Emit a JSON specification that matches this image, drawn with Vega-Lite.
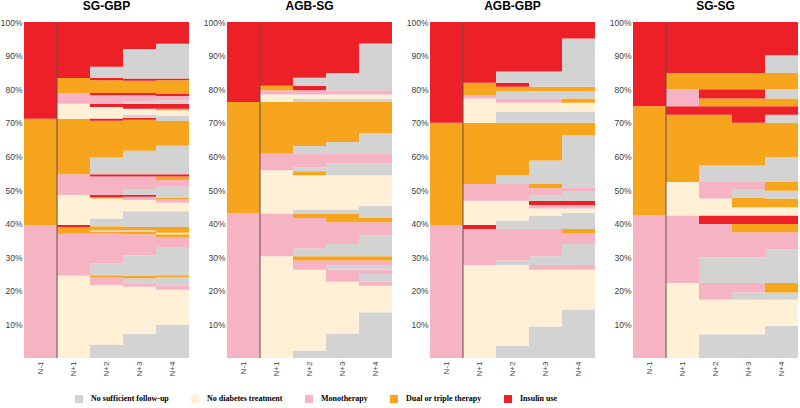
{
"$schema":"https://vega.github.io/schema/vega-lite/v6.json",
"background":"white",
"padding":{"left":0,"top":0,"right":0,"bottom":0},
"data":{"values":[
{"p":"SG-GBP","c":"N-1","k":"P","a":0,"b":39.5},{"p":"SG-GBP","c":"N-1","k":"O","a":39.5,"b":71.2},{"p":"SG-GBP","c":"N-1","k":"R","a":71.2,"b":100},
{"p":"SG-GBP","c":"N+1","k":"C","a":0,"b":24.5},{"p":"SG-GBP","c":"N+1","k":"P","a":24.5,"b":37},{"p":"SG-GBP","c":"N+1","k":"O","a":37,"b":38.9},{"p":"SG-GBP","c":"N+1","k":"R","a":38.9,"b":39.6},{"p":"SG-GBP","c":"N+1","k":"C","a":39.6,"b":48.5},{"p":"SG-GBP","c":"N+1","k":"P","a":48.5,"b":54.7},{"p":"SG-GBP","c":"N+1","k":"O","a":54.7,"b":71.2},{"p":"SG-GBP","c":"N+1","k":"C","a":71.2,"b":75.7},{"p":"SG-GBP","c":"N+1","k":"P","a":75.7,"b":78.9},{"p":"SG-GBP","c":"N+1","k":"O","a":78.9,"b":83.3},{"p":"SG-GBP","c":"N+1","k":"R","a":83.3,"b":100},
{"p":"SG-GBP","c":"N+2","k":"G","a":0,"b":4},{"p":"SG-GBP","c":"N+2","k":"C","a":4,"b":21.7},{"p":"SG-GBP","c":"N+2","k":"P","a":21.7,"b":24},{"p":"SG-GBP","c":"N+2","k":"O","a":24,"b":24.6},{"p":"SG-GBP","c":"N+2","k":"G","a":24.6,"b":28.2},{"p":"SG-GBP","c":"N+2","k":"P","a":28.2,"b":37},{"p":"SG-GBP","c":"N+2","k":"O","a":37,"b":37.5},{"p":"SG-GBP","c":"N+2","k":"G","a":37.5,"b":38},{"p":"SG-GBP","c":"N+2","k":"O","a":38,"b":39.2},{"p":"SG-GBP","c":"N+2","k":"G","a":39.2,"b":41.5},{"p":"SG-GBP","c":"N+2","k":"C","a":41.5,"b":47.5},{"p":"SG-GBP","c":"N+2","k":"O","a":47.5,"b":47.9},{"p":"SG-GBP","c":"N+2","k":"R","a":47.9,"b":48.5},{"p":"SG-GBP","c":"N+2","k":"P","a":48.5,"b":54},{"p":"SG-GBP","c":"N+2","k":"R","a":54,"b":54.7},{"p":"SG-GBP","c":"N+2","k":"G","a":54.7,"b":59.7},{"p":"SG-GBP","c":"N+2","k":"O","a":59.7,"b":70.6},{"p":"SG-GBP","c":"N+2","k":"R","a":70.6,"b":71.3},{"p":"SG-GBP","c":"N+2","k":"C","a":71.3,"b":74.7},{"p":"SG-GBP","c":"N+2","k":"R","a":74.7,"b":75.7},{"p":"SG-GBP","c":"N+2","k":"P","a":75.7,"b":78.2},{"p":"SG-GBP","c":"N+2","k":"R","a":78.2,"b":78.9},{"p":"SG-GBP","c":"N+2","k":"O","a":78.9,"b":82.7},{"p":"SG-GBP","c":"N+2","k":"R","a":82.7,"b":83.4},{"p":"SG-GBP","c":"N+2","k":"G","a":83.4,"b":86.7},{"p":"SG-GBP","c":"N+2","k":"R","a":86.7,"b":100},
{"p":"SG-GBP","c":"N+3","k":"G","a":0,"b":7.2},{"p":"SG-GBP","c":"N+3","k":"C","a":7.2,"b":21.2},{"p":"SG-GBP","c":"N+3","k":"P","a":21.2,"b":22},{"p":"SG-GBP","c":"N+3","k":"G","a":22,"b":23.7},{"p":"SG-GBP","c":"N+3","k":"O","a":23.7,"b":24.5},{"p":"SG-GBP","c":"N+3","k":"G","a":24.5,"b":30.5},{"p":"SG-GBP","c":"N+3","k":"P","a":30.5,"b":36.8},{"p":"SG-GBP","c":"N+3","k":"O","a":36.8,"b":37.5},{"p":"SG-GBP","c":"N+3","k":"G","a":37.5,"b":38},{"p":"SG-GBP","c":"N+3","k":"O","a":38,"b":39},{"p":"SG-GBP","c":"N+3","k":"G","a":39,"b":43.7},{"p":"SG-GBP","c":"N+3","k":"C","a":43.7,"b":47},{"p":"SG-GBP","c":"N+3","k":"P","a":47,"b":48},{"p":"SG-GBP","c":"N+3","k":"R","a":48,"b":48.6},{"p":"SG-GBP","c":"N+3","k":"G","a":48.6,"b":50.3},{"p":"SG-GBP","c":"N+3","k":"P","a":50.3,"b":54},{"p":"SG-GBP","c":"N+3","k":"R","a":54,"b":54.7},{"p":"SG-GBP","c":"N+3","k":"G","a":54.7,"b":61.7},{"p":"SG-GBP","c":"N+3","k":"O","a":61.7,"b":70.9},{"p":"SG-GBP","c":"N+3","k":"R","a":70.9,"b":71.5},{"p":"SG-GBP","c":"N+3","k":"G","a":71.5,"b":72.5},{"p":"SG-GBP","c":"N+3","k":"C","a":72.5,"b":74.2},{"p":"SG-GBP","c":"N+3","k":"R","a":74.2,"b":75.7},{"p":"SG-GBP","c":"N+3","k":"G","a":75.7,"b":76.5},{"p":"SG-GBP","c":"N+3","k":"P","a":76.5,"b":78.2},{"p":"SG-GBP","c":"N+3","k":"R","a":78.2,"b":78.9},{"p":"SG-GBP","c":"N+3","k":"O","a":78.9,"b":82.5},{"p":"SG-GBP","c":"N+3","k":"R","a":82.5,"b":83.2},{"p":"SG-GBP","c":"N+3","k":"G","a":83.2,"b":92},{"p":"SG-GBP","c":"N+3","k":"R","a":92,"b":100},
{"p":"SG-GBP","c":"N+4","k":"G","a":0,"b":9.8},{"p":"SG-GBP","c":"N+4","k":"C","a":9.8,"b":20.3},{"p":"SG-GBP","c":"N+4","k":"P","a":20.3,"b":21.5},{"p":"SG-GBP","c":"N+4","k":"G","a":21.5,"b":24},{"p":"SG-GBP","c":"N+4","k":"O","a":24,"b":24.6},{"p":"SG-GBP","c":"N+4","k":"G","a":24.6,"b":32.8},{"p":"SG-GBP","c":"N+4","k":"P","a":32.8,"b":36},{"p":"SG-GBP","c":"N+4","k":"O","a":36,"b":36.8},{"p":"SG-GBP","c":"N+4","k":"C","a":36.8,"b":37.3},{"p":"SG-GBP","c":"N+4","k":"O","a":37.3,"b":39},{"p":"SG-GBP","c":"N+4","k":"G","a":39,"b":43.7},{"p":"SG-GBP","c":"N+4","k":"C","a":43.7,"b":46.2},{"p":"SG-GBP","c":"N+4","k":"P","a":46.2,"b":47.2},{"p":"SG-GBP","c":"N+4","k":"O","a":47.2,"b":47.8},{"p":"SG-GBP","c":"N+4","k":"G","a":47.8,"b":51},{"p":"SG-GBP","c":"N+4","k":"P","a":51,"b":53},{"p":"SG-GBP","c":"N+4","k":"O","a":53,"b":54},{"p":"SG-GBP","c":"N+4","k":"R","a":54,"b":54.7},{"p":"SG-GBP","c":"N+4","k":"G","a":54.7,"b":63.2},{"p":"SG-GBP","c":"N+4","k":"O","a":63.2,"b":70.5},{"p":"SG-GBP","c":"N+4","k":"G","a":70.5,"b":72.2},{"p":"SG-GBP","c":"N+4","k":"C","a":72.2,"b":73.7},{"p":"SG-GBP","c":"N+4","k":"O","a":73.7,"b":74.2},{"p":"SG-GBP","c":"N+4","k":"R","a":74.2,"b":75.7},{"p":"SG-GBP","c":"N+4","k":"G","a":75.7,"b":76.7},{"p":"SG-GBP","c":"N+4","k":"P","a":76.7,"b":78},{"p":"SG-GBP","c":"N+4","k":"R","a":78,"b":78.7},{"p":"SG-GBP","c":"N+4","k":"O","a":78.7,"b":82.7},{"p":"SG-GBP","c":"N+4","k":"R","a":82.7,"b":83.2},{"p":"SG-GBP","c":"N+4","k":"G","a":83.2,"b":93.5},{"p":"SG-GBP","c":"N+4","k":"R","a":93.5,"b":100},

{"p":"AGB-SG","c":"N-1","k":"P","a":0,"b":43},{"p":"AGB-SG","c":"N-1","k":"O","a":43,"b":76.2},{"p":"AGB-SG","c":"N-1","k":"R","a":76.2,"b":100},
{"p":"AGB-SG","c":"N+1","k":"C","a":0,"b":30.3},{"p":"AGB-SG","c":"N+1","k":"P","a":30.3,"b":43},{"p":"AGB-SG","c":"N+1","k":"C","a":43,"b":55.9},{"p":"AGB-SG","c":"N+1","k":"P","a":55.9,"b":60.8},{"p":"AGB-SG","c":"N+1","k":"O","a":60.8,"b":76.2},{"p":"AGB-SG","c":"N+1","k":"C","a":76.2,"b":78.4},{"p":"AGB-SG","c":"N+1","k":"P","a":78.4,"b":79.7},{"p":"AGB-SG","c":"N+1","k":"O","a":79.7,"b":81},{"p":"AGB-SG","c":"N+1","k":"R","a":81,"b":100},
{"p":"AGB-SG","c":"N+2","k":"G","a":0,"b":2.2},{"p":"AGB-SG","c":"N+2","k":"C","a":2.2,"b":26.3},{"p":"AGB-SG","c":"N+2","k":"P","a":26.3,"b":29},{"p":"AGB-SG","c":"N+2","k":"O","a":29,"b":30.3},{"p":"AGB-SG","c":"N+2","k":"G","a":30.3,"b":32.6},{"p":"AGB-SG","c":"N+2","k":"P","a":32.6,"b":41.7},{"p":"AGB-SG","c":"N+2","k":"O","a":41.7,"b":43},{"p":"AGB-SG","c":"N+2","k":"G","a":43,"b":44.2},{"p":"AGB-SG","c":"N+2","k":"C","a":44.2,"b":54.4},{"p":"AGB-SG","c":"N+2","k":"O","a":54.4,"b":55.6},{"p":"AGB-SG","c":"N+2","k":"G","a":55.6,"b":56.8},{"p":"AGB-SG","c":"N+2","k":"P","a":56.8,"b":60.8},{"p":"AGB-SG","c":"N+2","k":"G","a":60.8,"b":63.1},{"p":"AGB-SG","c":"N+2","k":"O","a":63.1,"b":76.2},{"p":"AGB-SG","c":"N+2","k":"G","a":76.2,"b":77.2},{"p":"AGB-SG","c":"N+2","k":"C","a":77.2,"b":78.4},{"p":"AGB-SG","c":"N+2","k":"P","a":78.4,"b":79.7},{"p":"AGB-SG","c":"N+2","k":"R","a":79.7,"b":81},{"p":"AGB-SG","c":"N+2","k":"G","a":81,"b":83.4},{"p":"AGB-SG","c":"N+2","k":"R","a":83.4,"b":100},
{"p":"AGB-SG","c":"N+3","k":"G","a":0,"b":7.3},{"p":"AGB-SG","c":"N+3","k":"C","a":7.3,"b":22.7},{"p":"AGB-SG","c":"N+3","k":"P","a":22.7,"b":26.3},{"p":"AGB-SG","c":"N+3","k":"G","a":26.3,"b":27.7},{"p":"AGB-SG","c":"N+3","k":"P","a":27.7,"b":29},{"p":"AGB-SG","c":"N+3","k":"O","a":29,"b":30.3},{"p":"AGB-SG","c":"N+3","k":"G","a":30.3,"b":33.9},{"p":"AGB-SG","c":"N+3","k":"P","a":33.9,"b":40.4},{"p":"AGB-SG","c":"N+3","k":"O","a":40.4,"b":43},{"p":"AGB-SG","c":"N+3","k":"G","a":43,"b":44.2},{"p":"AGB-SG","c":"N+3","k":"C","a":44.2,"b":54.4},{"p":"AGB-SG","c":"N+3","k":"G","a":54.4,"b":58},{"p":"AGB-SG","c":"N+3","k":"P","a":58,"b":60.8},{"p":"AGB-SG","c":"N+3","k":"G","a":60.8,"b":64.3},{"p":"AGB-SG","c":"N+3","k":"O","a":64.3,"b":76.2},{"p":"AGB-SG","c":"N+3","k":"G","a":76.2,"b":77.2},{"p":"AGB-SG","c":"N+3","k":"C","a":77.2,"b":78.4},{"p":"AGB-SG","c":"N+3","k":"P","a":78.4,"b":79.7},{"p":"AGB-SG","c":"N+3","k":"G","a":79.7,"b":84.8},{"p":"AGB-SG","c":"N+3","k":"R","a":84.8,"b":100},
{"p":"AGB-SG","c":"N+4","k":"G","a":0,"b":13.6},{"p":"AGB-SG","c":"N+4","k":"C","a":13.6,"b":21.5},{"p":"AGB-SG","c":"N+4","k":"P","a":21.5,"b":22.7},{"p":"AGB-SG","c":"N+4","k":"G","a":22.7,"b":25},{"p":"AGB-SG","c":"N+4","k":"P","a":25,"b":26.3},{"p":"AGB-SG","c":"N+4","k":"G","a":26.3,"b":27.7},{"p":"AGB-SG","c":"N+4","k":"P","a":27.7,"b":29},{"p":"AGB-SG","c":"N+4","k":"O","a":29,"b":30.3},{"p":"AGB-SG","c":"N+4","k":"G","a":30.3,"b":36.4},{"p":"AGB-SG","c":"N+4","k":"P","a":36.4,"b":40.4},{"p":"AGB-SG","c":"N+4","k":"O","a":40.4,"b":41.7},{"p":"AGB-SG","c":"N+4","k":"G","a":41.7,"b":45.3},{"p":"AGB-SG","c":"N+4","k":"C","a":45.3,"b":54.4},{"p":"AGB-SG","c":"N+4","k":"G","a":54.4,"b":58},{"p":"AGB-SG","c":"N+4","k":"P","a":58,"b":60.8},{"p":"AGB-SG","c":"N+4","k":"G","a":60.8,"b":67},{"p":"AGB-SG","c":"N+4","k":"O","a":67,"b":76.2},{"p":"AGB-SG","c":"N+4","k":"G","a":76.2,"b":77.2},{"p":"AGB-SG","c":"N+4","k":"C","a":77.2,"b":78.4},{"p":"AGB-SG","c":"N+4","k":"P","a":78.4,"b":79.7},{"p":"AGB-SG","c":"N+4","k":"G","a":79.7,"b":93.6},{"p":"AGB-SG","c":"N+4","k":"R","a":93.6,"b":100},

{"p":"AGB-GBP","c":"N-1","k":"P","a":0,"b":39.6},{"p":"AGB-GBP","c":"N-1","k":"O","a":39.6,"b":70},{"p":"AGB-GBP","c":"N-1","k":"R","a":70,"b":100},
{"p":"AGB-GBP","c":"N+1","k":"C","a":0,"b":27.7},{"p":"AGB-GBP","c":"N+1","k":"P","a":27.7,"b":38.4},{"p":"AGB-GBP","c":"N+1","k":"R","a":38.4,"b":39.6},{"p":"AGB-GBP","c":"N+1","k":"C","a":39.6,"b":46.8},{"p":"AGB-GBP","c":"N+1","k":"P","a":46.8,"b":51.8},{"p":"AGB-GBP","c":"N+1","k":"O","a":51.8,"b":70},{"p":"AGB-GBP","c":"N+1","k":"C","a":70,"b":77.2},{"p":"AGB-GBP","c":"N+1","k":"P","a":77.2,"b":78.2},{"p":"AGB-GBP","c":"N+1","k":"O","a":78.2,"b":81.9},{"p":"AGB-GBP","c":"N+1","k":"R","a":81.9,"b":100},
{"p":"AGB-GBP","c":"N+2","k":"G","a":0,"b":3.6},{"p":"AGB-GBP","c":"N+2","k":"C","a":3.6,"b":27.7},{"p":"AGB-GBP","c":"N+2","k":"G","a":27.7,"b":29},{"p":"AGB-GBP","c":"N+2","k":"P","a":29,"b":38.4},{"p":"AGB-GBP","c":"N+2","k":"G","a":38.4,"b":40.9},{"p":"AGB-GBP","c":"N+2","k":"C","a":40.9,"b":46.8},{"p":"AGB-GBP","c":"N+2","k":"P","a":46.8,"b":51.8},{"p":"AGB-GBP","c":"N+2","k":"G","a":51.8,"b":54.4},{"p":"AGB-GBP","c":"N+2","k":"O","a":54.4,"b":70},{"p":"AGB-GBP","c":"N+2","k":"G","a":70,"b":73.4},{"p":"AGB-GBP","c":"N+2","k":"C","a":73.4,"b":76},{"p":"AGB-GBP","c":"N+2","k":"P","a":76,"b":77.2},{"p":"AGB-GBP","c":"N+2","k":"G","a":77.2,"b":79.4},{"p":"AGB-GBP","c":"N+2","k":"O","a":79.4,"b":80.7},{"p":"AGB-GBP","c":"N+2","k":"R","a":80.7,"b":81.9},{"p":"AGB-GBP","c":"N+2","k":"G","a":81.9,"b":85.3},{"p":"AGB-GBP","c":"N+2","k":"R","a":85.3,"b":100},
{"p":"AGB-GBP","c":"N+3","k":"G","a":0,"b":9.4},{"p":"AGB-GBP","c":"N+3","k":"C","a":9.4,"b":26.3},{"p":"AGB-GBP","c":"N+3","k":"P","a":26.3,"b":27.7},{"p":"AGB-GBP","c":"N+3","k":"G","a":27.7,"b":30.3},{"p":"AGB-GBP","c":"N+3","k":"P","a":30.3,"b":38.4},{"p":"AGB-GBP","c":"N+3","k":"G","a":38.4,"b":42.4},{"p":"AGB-GBP","c":"N+3","k":"C","a":42.4,"b":44.5},{"p":"AGB-GBP","c":"N+3","k":"P","a":44.5,"b":45.5},{"p":"AGB-GBP","c":"N+3","k":"R","a":45.5,"b":46.8},{"p":"AGB-GBP","c":"N+3","k":"G","a":46.8,"b":48.3},{"p":"AGB-GBP","c":"N+3","k":"P","a":48.3,"b":50.5},{"p":"AGB-GBP","c":"N+3","k":"O","a":50.5,"b":51.8},{"p":"AGB-GBP","c":"N+3","k":"G","a":51.8,"b":58.8},{"p":"AGB-GBP","c":"N+3","k":"O","a":58.8,"b":70},{"p":"AGB-GBP","c":"N+3","k":"G","a":70,"b":73.4},{"p":"AGB-GBP","c":"N+3","k":"C","a":73.4,"b":76},{"p":"AGB-GBP","c":"N+3","k":"P","a":76,"b":77.2},{"p":"AGB-GBP","c":"N+3","k":"G","a":77.2,"b":79.4},{"p":"AGB-GBP","c":"N+3","k":"O","a":79.4,"b":80.7},{"p":"AGB-GBP","c":"N+3","k":"G","a":80.7,"b":85.3},{"p":"AGB-GBP","c":"N+3","k":"R","a":85.3,"b":100},
{"p":"AGB-GBP","c":"N+4","k":"G","a":0,"b":14.4},{"p":"AGB-GBP","c":"N+4","k":"C","a":14.4,"b":26.3},{"p":"AGB-GBP","c":"N+4","k":"P","a":26.3,"b":27.7},{"p":"AGB-GBP","c":"N+4","k":"G","a":27.7,"b":33.9},{"p":"AGB-GBP","c":"N+4","k":"P","a":33.9,"b":37.2},{"p":"AGB-GBP","c":"N+4","k":"O","a":37.2,"b":38.4},{"p":"AGB-GBP","c":"N+4","k":"G","a":38.4,"b":43.2},{"p":"AGB-GBP","c":"N+4","k":"C","a":43.2,"b":44.5},{"p":"AGB-GBP","c":"N+4","k":"P","a":44.5,"b":45.5},{"p":"AGB-GBP","c":"N+4","k":"R","a":45.5,"b":46.8},{"p":"AGB-GBP","c":"N+4","k":"G","a":46.8,"b":49.5},{"p":"AGB-GBP","c":"N+4","k":"P","a":49.5,"b":50.8},{"p":"AGB-GBP","c":"N+4","k":"G","a":50.8,"b":66.3},{"p":"AGB-GBP","c":"N+4","k":"O","a":66.3,"b":70},{"p":"AGB-GBP","c":"N+4","k":"G","a":70,"b":73.4},{"p":"AGB-GBP","c":"N+4","k":"C","a":73.4,"b":76},{"p":"AGB-GBP","c":"N+4","k":"O","a":76,"b":77.2},{"p":"AGB-GBP","c":"N+4","k":"G","a":77.2,"b":79.4},{"p":"AGB-GBP","c":"N+4","k":"O","a":79.4,"b":80.7},{"p":"AGB-GBP","c":"N+4","k":"G","a":80.7,"b":95.1},{"p":"AGB-GBP","c":"N+4","k":"R","a":95.1,"b":100},

{"p":"SG-SG","c":"N-1","k":"P","a":0,"b":42.4},{"p":"SG-SG","c":"N-1","k":"O","a":42.4,"b":74.9},{"p":"SG-SG","c":"N-1","k":"R","a":74.9,"b":100},
{"p":"SG-SG","c":"N+1","k":"C","a":0,"b":22.3},{"p":"SG-SG","c":"N+1","k":"P","a":22.3,"b":42.4},{"p":"SG-SG","c":"N+1","k":"C","a":42.4,"b":52.4},{"p":"SG-SG","c":"N+1","k":"O","a":52.4,"b":72.4},{"p":"SG-SG","c":"N+1","k":"R","a":72.4,"b":74.9},{"p":"SG-SG","c":"N+1","k":"P","a":74.9,"b":80},{"p":"SG-SG","c":"N+1","k":"O","a":80,"b":84.8},{"p":"SG-SG","c":"N+1","k":"R","a":84.8,"b":100},
{"p":"SG-SG","c":"N+2","k":"G","a":0,"b":7.1},{"p":"SG-SG","c":"N+2","k":"C","a":7.1,"b":17.3},{"p":"SG-SG","c":"N+2","k":"P","a":17.3,"b":22.3},{"p":"SG-SG","c":"N+2","k":"G","a":22.3,"b":30},{"p":"SG-SG","c":"N+2","k":"P","a":30,"b":39.9},{"p":"SG-SG","c":"N+2","k":"R","a":39.9,"b":42.4},{"p":"SG-SG","c":"N+2","k":"C","a":42.4,"b":47.5},{"p":"SG-SG","c":"N+2","k":"P","a":47.5,"b":52.4},{"p":"SG-SG","c":"N+2","k":"G","a":52.4,"b":57.3},{"p":"SG-SG","c":"N+2","k":"O","a":57.3,"b":72.4},{"p":"SG-SG","c":"N+2","k":"R","a":72.4,"b":74.9},{"p":"SG-SG","c":"N+2","k":"O","a":74.9,"b":77.2},{"p":"SG-SG","c":"N+2","k":"R","a":77.2,"b":80},{"p":"SG-SG","c":"N+2","k":"O","a":80,"b":84.8},{"p":"SG-SG","c":"N+2","k":"R","a":84.8,"b":100},
{"p":"SG-SG","c":"N+3","k":"G","a":0,"b":7.1},{"p":"SG-SG","c":"N+3","k":"C","a":7.1,"b":17.3},{"p":"SG-SG","c":"N+3","k":"G","a":17.3,"b":19.5},{"p":"SG-SG","c":"N+3","k":"P","a":19.5,"b":22.3},{"p":"SG-SG","c":"N+3","k":"G","a":22.3,"b":30},{"p":"SG-SG","c":"N+3","k":"P","a":30,"b":37.4},{"p":"SG-SG","c":"N+3","k":"O","a":37.4,"b":39.9},{"p":"SG-SG","c":"N+3","k":"R","a":39.9,"b":42.4},{"p":"SG-SG","c":"N+3","k":"C","a":42.4,"b":44.9},{"p":"SG-SG","c":"N+3","k":"O","a":44.9,"b":47.8},{"p":"SG-SG","c":"N+3","k":"G","a":47.8,"b":50.3},{"p":"SG-SG","c":"N+3","k":"P","a":50.3,"b":52.4},{"p":"SG-SG","c":"N+3","k":"G","a":52.4,"b":57.3},{"p":"SG-SG","c":"N+3","k":"O","a":57.3,"b":70},{"p":"SG-SG","c":"N+3","k":"R","a":70,"b":74.9},{"p":"SG-SG","c":"N+3","k":"O","a":74.9,"b":77.2},{"p":"SG-SG","c":"N+3","k":"R","a":77.2,"b":80},{"p":"SG-SG","c":"N+3","k":"O","a":80,"b":84.8},{"p":"SG-SG","c":"N+3","k":"R","a":84.8,"b":100},
{"p":"SG-SG","c":"N+4","k":"G","a":0,"b":9.6},{"p":"SG-SG","c":"N+4","k":"C","a":9.6,"b":17.3},{"p":"SG-SG","c":"N+4","k":"G","a":17.3,"b":19.5},{"p":"SG-SG","c":"N+4","k":"O","a":19.5,"b":22.3},{"p":"SG-SG","c":"N+4","k":"G","a":22.3,"b":32.4},{"p":"SG-SG","c":"N+4","k":"P","a":32.4,"b":37.4},{"p":"SG-SG","c":"N+4","k":"O","a":37.4,"b":39.9},{"p":"SG-SG","c":"N+4","k":"R","a":39.9,"b":42.4},{"p":"SG-SG","c":"N+4","k":"C","a":42.4,"b":44.9},{"p":"SG-SG","c":"N+4","k":"O","a":44.9,"b":47.5},{"p":"SG-SG","c":"N+4","k":"G","a":47.5,"b":49.8},{"p":"SG-SG","c":"N+4","k":"O","a":49.8,"b":52.4},{"p":"SG-SG","c":"N+4","k":"G","a":52.4,"b":59.8},{"p":"SG-SG","c":"N+4","k":"O","a":59.8,"b":70},{"p":"SG-SG","c":"N+4","k":"G","a":70,"b":72.4},{"p":"SG-SG","c":"N+4","k":"R","a":72.4,"b":74.9},{"p":"SG-SG","c":"N+4","k":"O","a":74.9,"b":77.2},{"p":"SG-SG","c":"N+4","k":"G","a":77.2,"b":80},{"p":"SG-SG","c":"N+4","k":"O","a":80,"b":84.8},{"p":"SG-SG","c":"N+4","k":"G","a":84.8,"b":90.1},{"p":"SG-SG","c":"N+4","k":"R","a":90.1,"b":100}
]},
"facet":{"column":{"field":"p","type":"nominal","sort":["SG-GBP","AGB-SG","AGB-GBP","SG-SG"],
  "header":{"title":null,"labelFontSize":12,"labelFontWeight":"bold","labelFont":"Liberation Sans","labelColor":"#000000","labelPadding":5}}},
"spacing":14,
"resolve":{"axis":{"y":"independent","x":"independent"}},
"spec":{
  "width":165,"height":336,
  "layer":[
    {"mark":{"type":"bar","strokeWidth":0},
     "encoding":{
       "x":{"field":"c","type":"ordinal","sort":["N-1","N+1","N+2","N+3","N+4"],"scale":{"paddingInner":0,"paddingOuter":0},
            "axis":{"title":null,"labelAngle":-90,"domain":false,"ticks":false,"labelFontSize":8,"labelFont":"Liberation Sans","labelColor":"#404040","labelPadding":3}},
       "y":{"field":"a","type":"quantitative","scale":{"domain":[0,100],"nice":false},
            "axis":{"title":null,"values":[10,20,30,40,50,60,70,80,90,100],"labelExpr":"datum.value + '%'","domain":false,"ticks":false,"grid":false,"labelFontSize":8.5,"labelFont":"Liberation Sans","labelColor":"#404040","labelPadding":2,"labelOverlap":false,"labelFlush":false,"labelBound":false,"labelSeparation":0}},
       "y2":{"field":"b"},
       "color":{"field":"k","type":"nominal",
          "scale":{"domain":["G","C","P","O","R"],"range":["#d3d3d3","#fff0d6","#f6b3c4","#f7a51c","#ed2028"]},
          "legend":{"title":null,"orient":"none","legendX":51,"legendY":373,"direction":"horizontal","columns":5,
            "labelExpr":"{'G':'No sufficient follow-up','C':'No diabetes treatment','P':'Monotherapy','O':'Dual or triple therapy','R':'Insulin use'}[datum.value]",
            "symbolType":"square","symbolSize":64,"symbolStrokeWidth":0,"labelFont":"Liberation Serif","labelFontWeight":"bold","labelFontSize":8,"labelColor":"#000000","columnPadding":22,"labelOffset":8}}
     }},
    {"transform":[{"filter":"datum.c === 'N+1' && datum.a === 0"}],
     "mark":{"type":"rule","color":"#5e504b","strokeWidth":1},
     "encoding":{
       "x":{"field":"c","type":"ordinal","sort":["N-1","N+1","N+2","N+3","N+4"],"bandPosition":0,
            "axis":{"title":null,"labelAngle":-90,"domain":false,"ticks":false,"labelFontSize":8,"labelFont":"Liberation Sans","labelColor":"#404040","labelPadding":3}},
       "y":{"datum":0,"type":"quantitative",
            "axis":{"title":null,"values":[10,20,30,40,50,60,70,80,90,100],"labelExpr":"datum.value + '%'","domain":false,"ticks":false,"grid":false,"labelFontSize":8.5,"labelFont":"Liberation Sans","labelColor":"#404040","labelPadding":2,"labelOverlap":false,"labelFlush":false,"labelBound":false,"labelSeparation":0}},
       "y2":{"datum":100}
     }}
  ]
},
"config":{"view":{"stroke":null},"axis":{"labelFont":"Liberation Sans","labelOverlap":false},"axisY":{"labelOverlap":false},"axisQuantitative":{"labelOverlap":false}}
}
